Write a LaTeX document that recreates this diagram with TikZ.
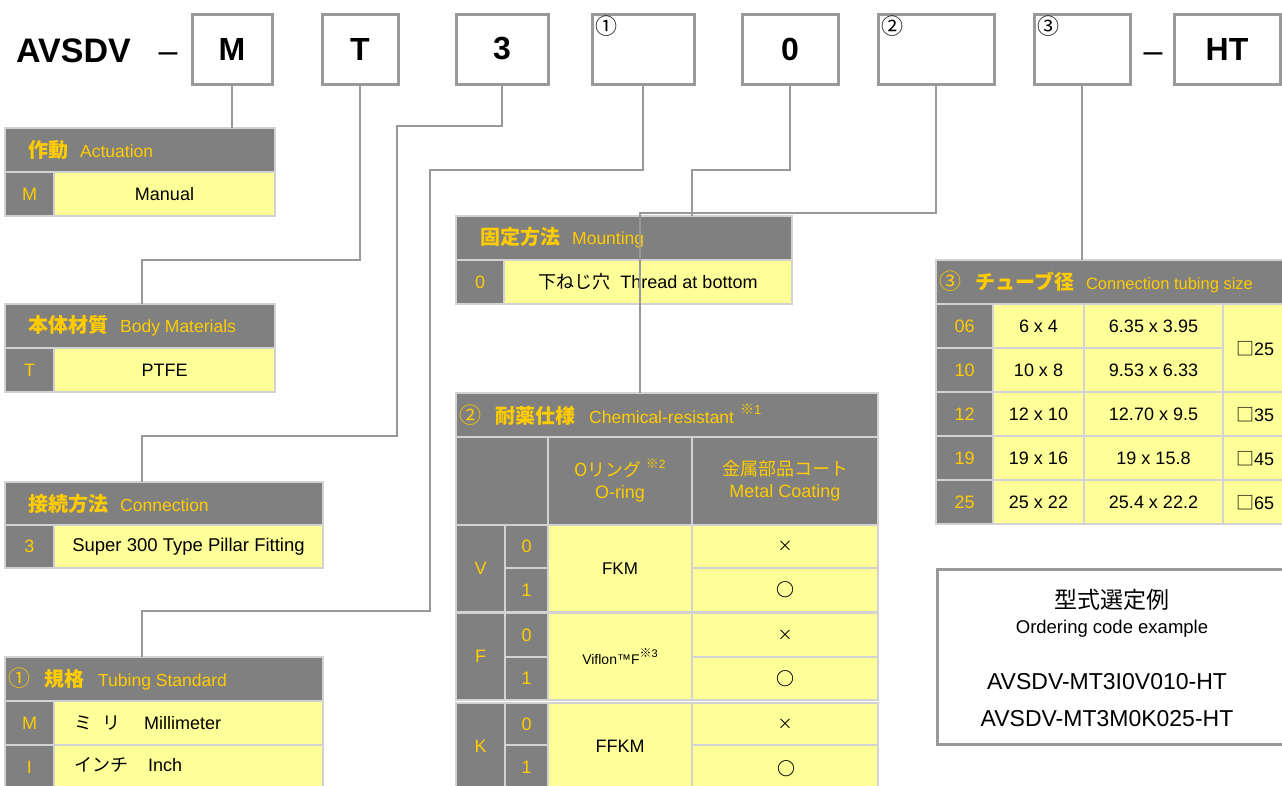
\documentclass[tikz,border=0pt]{standalone}
\usepackage{fontspec}
\setmainfont{Liberation Sans}
\newfontfamily\jp{Noto Sans CJK JP}
\usetikzlibrary{calc}
\definecolor{hdrgray}{HTML}{808080}
\definecolor{cellyel}{HTML}{FFFF99}
\definecolor{gold}{HTML}{FFCC00}
\definecolor{linegray}{HTML}{999999}
\definecolor{sepgray}{HTML}{D2D2D2}
\newcommand\fsz[1]{\fontsize{#1}{#1}\selectfont}
\newcommand\cellat[7]{\node[#1, minimum width={#5pt-#3pt}, minimum height={#6pt-#4pt}] (#2) at (#3,#4) {#7};}
\newcommand\hj[1]{{\jp\bfseries\fsz{20}#1}}
\newcommand\hl[1]{{\fsz{17.5}#1}}
\newcommand\xmark{{\jp\fsz{15}×}}
\newcommand\omark{{\jp\bfseries\fsz{18}○}}
\tikzset{
  codebox/.style={draw=linegray, line width=3pt, fill=white, minimum height=70pt, inner sep=0pt, font=\fsz{32}\bfseries},
  conn/.style={draw=linegray, line width=2.5pt},
  cellbase/.style={draw=sepgray, line width=1.5pt, inner sep=0pt, outer sep=0pt, anchor=north west, align=center},
  hdr/.style={cellbase, fill=hdrgray, text=gold, font=\fsz{18}},
  yel/.style={cellbase, fill=cellyel, text=black, font=\fsz{18}},
  htxt/.style={anchor=west, text=gold, inner sep=0pt},
  circ/.style={anchor=north west, inner sep=0pt, font=\jp\fsz{22}},
  dashtxt/.style={anchor=base, inner sep=0pt, font=\fsz{34}},
  extxt/.style={inner sep=0pt}
}
\begin{document}
\begin{tikzpicture}[x=1pt,y=-1pt]
\useasboundingbox (0,0) rectangle (1282,785);
\fill[white] (0,0) rectangle (1282,785);

% ---------- top code row ----------
\node[anchor=base west, inner sep=0pt, font=\fsz{34}\bfseries] (ttl) at (16,62) {AVSDV};
\node[dashtxt] (dsh1) at (168,62) {–};
\node[codebox, minimum width=80pt] (bM) at (232,49) {M};
\node[codebox, minimum width=76pt] (bT) at (360,49) {T};
\node[codebox, minimum width=92pt] (b3) at (502,49) {3};
\node[codebox, minimum width=102pt] (bI) at (643,49) {};
\node[codebox, minimum width=96pt] (b0) at (790,49) {0};
\node[codebox, minimum width=116pt] (bII) at (936,49) {};
\node[codebox, minimum width=96pt] (bIII) at (1082,49) {};
\node[dashtxt] (dsh2) at (1153,62) {–};
\node[codebox, minimum width=106pt] (bHT) at (1227,49) {HT};
\node[circ] (nI) at (595,16) {①};
\node[circ] (nII) at (881,16) {②};
\node[circ] (nIII) at (1037,16) {③};

% ---------- Actuation ----------
\cellat{hdr}{hAct}{5}{128}{275}{172}{}
\node[htxt] (tAct) at ($(hAct.west)+(23,0)$) {\hj{作動}\hspace{12pt}\hl{Actuation}};
\cellat{hdr}{cActM}{5}{172}{54}{216}{M}
\cellat{yel}{cActV}{54}{172}{275}{216}{Manual}

% ---------- Body Materials ----------
\cellat{hdr}{hBody}{5}{304}{275}{348}{}
\node[htxt] (tBody) at ($(hBody.west)+(23,0)$) {\hj{本体材質}\hspace{12pt}\hl{Body Materials}};
\cellat{hdr}{cBodyT}{5}{348}{54}{392}{T}
\cellat{yel}{cBodyV}{54}{348}{275}{392}{PTFE}

% ---------- Connection ----------
\cellat{hdr}{hConn}{5}{482}{323}{525}{}
\node[htxt] (tConn) at ($(hConn.west)+(23,0)$) {\hj{接続方法}\hspace{12pt}\hl{Connection}};
\cellat{hdr}{cConn3}{5}{525}{54}{568}{3}
\cellat{yel}{cConnV}{54}{525}{323}{568}{\fsz{18.5}Super 300 Type Pillar Fitting}

% ---------- Tubing Standard ----------
\cellat{hdr}{hTub}{5}{657}{323}{701}{}
\node[htxt] (tTub) at ($(hTub.west)+(3,0)$) {{\jp\fsz{22}①}\hspace{14pt}\hj{規格}\hspace{14pt}\hl{Tubing Standard}};
\cellat{hdr}{cTubM}{5}{701}{54}{745}{M}
\cellat{yel}{cTubMv}{54}{701}{323}{745}{}
\node[anchor=west, inner sep=0pt, font=\fsz{18}] (tTubM) at ($(cTubMv.west)+(20,0)$) {{\jp ミ\hspace{10pt}リ}\hspace{24pt}Millimeter};
\cellat{hdr}{cTubI}{5}{745}{54}{790}{I}
\cellat{yel}{cTubIv}{54}{745}{323}{790}{}
\node[anchor=west, inner sep=0pt, font=\fsz{18}] (tTubI) at ($(cTubIv.west)+(20,-3)$) {{\jp インチ}\hspace{20pt}Inch};

% ---------- Mounting ----------
\cellat{hdr}{hMnt}{456}{216}{792}{260}{}
\node[htxt] (tMnt) at ($(hMnt.west)+(24,0)$) {\hj{固定方法}\hspace{12pt}\hl{Mounting}};
\cellat{hdr}{cMnt0}{456}{260}{504}{304}{0}
\cellat{yel}{cMntV}{504}{260}{792}{304}{{\jp 下ねじ穴}\hspace{10pt}Thread at bottom}

% ---------- Chemical-resistant ----------
\cellat{hdr}{hChem}{456}{393}{878}{437}{}
\node[htxt] (tChem) at ($(hChem.west)+(3,0)$) {{\jp\fsz{22}②}\hspace{14pt}\hj{耐薬仕様}\hspace{14pt}\hl{Chemical-resistant}\hspace{6pt}\raisebox{9pt}{{\jp\fsz{14}※}\fsz{13}1}};
\cellat{hdr}{cChemB}{456}{437}{548}{525}{}
\cellat{hdr}{cChemO}{548}{437}{692}{525}{{\jp Oリング}\hspace{4pt}\raisebox{8pt}{{\jp\fsz{13}※}\fsz{12}2}\\[4pt]O-ring}
\cellat{hdr}{cChemM}{692}{437}{878}{525}{{\jp 金属部品コート}\\[4pt]Metal Coating}
% V
\cellat{hdr}{cV}{456}{525}{505}{612}{V}
\cellat{hdr}{cV0}{505}{525}{548}{568}{0}
\cellat{hdr}{cV1}{505}{568}{548}{612}{1}
\cellat{yel}{cVm}{548}{525}{692}{612}{\fsz{17}FKM}
\cellat{yel}{cV0c}{692}{525}{878}{568}{\xmark}
\cellat{yel}{cV1c}{692}{568}{878}{612}{\omark}
% F
\cellat{hdr}{cF}{456}{613}{505}{700}{F}
\cellat{hdr}{cF0}{505}{613}{548}{657}{0}
\cellat{hdr}{cF1}{505}{657}{548}{700}{1}
\cellat{yel}{cFm}{548}{613}{692}{700}{\fsz{14}Viflon™F\raisebox{7pt}{{\jp\fsz{12}※}\fsz{11}3}}
\cellat{yel}{cF0c}{692}{613}{878}{657}{\xmark}
\cellat{yel}{cF1c}{692}{657}{878}{700}{\omark}
% K
\cellat{hdr}{cK}{456}{703}{505}{790}{K}
\cellat{hdr}{cK0}{505}{703}{548}{745}{0}
\cellat{hdr}{cK1}{505}{745}{548}{790}{1}
\cellat{yel}{cKm}{548}{703}{692}{790}{}
\node[inner sep=0pt, font=\fsz{18}] (tKm) at (620,746) {FFKM};
\cellat{yel}{cK0c}{692}{703}{878}{745}{\xmark}
\cellat{yel}{cK1c}{692}{745}{878}{790}{}
\node[inner sep=0pt] (tK1c) at (786,769) {\omark};

% ---------- Tubing size ----------
\cellat{hdr}{hTube}{936}{260}{1292}{304}{}
\node[htxt] (tTube) at ($(hTube.west)+(3,0)$) {{\jp\fsz{22}③}\hspace{14pt}\hj{チューブ径}\hspace{12pt}{\fsz{16.5}Connection tubing size}};
\cellat{hdr}{c06}{936}{304}{993}{348}{06}
\cellat{yel}{c06a}{993}{304}{1084}{348}{6 x 4}
\cellat{yel}{c06b}{1084}{304}{1223}{348}{6.35 x 3.95}
\cellat{hdr}{c10}{936}{348}{993}{392}{10}
\cellat{yel}{c10a}{993}{348}{1084}{392}{10 x 8}
\cellat{yel}{c10b}{1084}{348}{1223}{392}{9.53 x 6.33}
\cellat{yel}{c25s}{1223}{304}{1292}{392}{}
\node[anchor=west, inner sep=0pt, font=\fsz{18}] (t25s) at (1236,349) {{\jp □}25};
\cellat{hdr}{c12}{936}{392}{993}{436}{12}
\cellat{yel}{c12a}{993}{392}{1084}{436}{12 x 10}
\cellat{yel}{c12b}{1084}{392}{1223}{436}{12.70 x 9.5}
\cellat{yel}{c12c}{1223}{392}{1292}{436}{}
\node[anchor=west, inner sep=0pt, font=\fsz{18}] (t35s) at (1236,415) {{\jp □}35};
\cellat{hdr}{c19}{936}{436}{993}{480}{19}
\cellat{yel}{c19a}{993}{436}{1084}{480}{19 x 16}
\cellat{yel}{c19b}{1084}{436}{1223}{480}{19 x 15.8}
\cellat{yel}{c19c}{1223}{436}{1292}{480}{}
\node[anchor=west, inner sep=0pt, font=\fsz{18}] (t45s) at (1236,459) {{\jp □}45};
\cellat{hdr}{c25}{936}{480}{993}{524}{25}
\cellat{yel}{c25a}{993}{480}{1084}{524}{25 x 22}
\cellat{yel}{c25b}{1084}{480}{1223}{524}{25.4 x 22.2}
\cellat{yel}{c25c}{1223}{480}{1292}{524}{}
\node[anchor=west, inner sep=0pt, font=\fsz{18}] (t65s) at (1236,503) {{\jp □}65};

% ---------- Ordering code example ----------
\node[draw=linegray, line width=3pt, anchor=north west, minimum width=370pt, minimum height=175pt] (ex) at (936,568) {};
\node[extxt, font=\jp\fsz{23}] (ex1) at (1112,600) {型式選定例};
\node[extxt, font=\fsz{18.5}] (ex2) at (1112,629) {Ordering code example};
\node[extxt, font=\fsz{23}] (ex3) at (1107,682) {AVSDV-MT3I0V010-HT};
\node[extxt, font=\fsz{23}] (ex4) at (1107,719) {AVSDV-MT3M0K025-HT};

% ---------- connectors ----------
\coordinate (k1) at (142,260);
\coordinate (k2a) at (397,126);
\coordinate (k2b) at (142,436);
\coordinate (k3a) at (430,170);
\coordinate (k3b) at (142,611);
\coordinate (k4) at (692,170);
\coordinate (k5) at (640,213);
\draw[conn] (bM.south) -- (bM.south |- hAct.north);
\draw[conn] (bT.south) |- (k1) -- (k1 |- hBody.north);
\draw[conn] (b3.south) |- (k2a) |- (k2b) -- (k2b |- hConn.north);
\draw[conn] (bI.south) |- (k3a) |- (k3b) -- (k3b |- hTub.north);
\draw[conn] (b0.south) |- (k4) -- (k4 |- hMnt.north);
\draw[conn] (bII.south) |- (k5) -- (k5 |- hChem.north);
\draw[conn] (bIII.south) -- (bIII.south |- hTube.north);
\end{tikzpicture}
\end{document}
